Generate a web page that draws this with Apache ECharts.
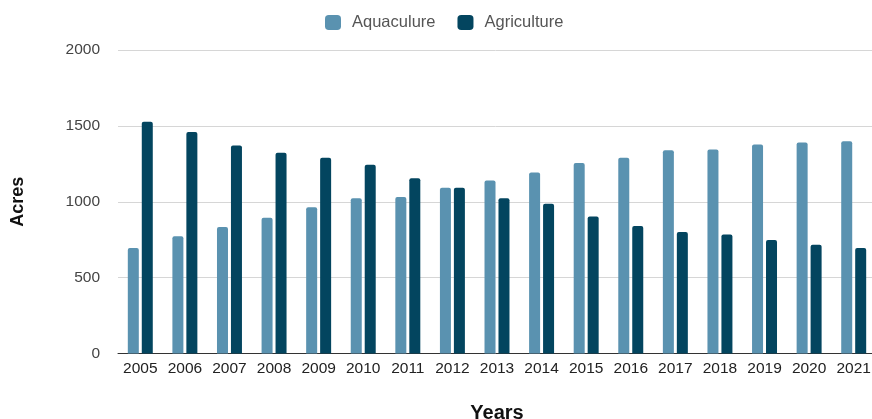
<!DOCTYPE html>
<html>
<head>
<meta charset="utf-8">
<script src="https://cdn.jsdelivr.net/npm/echarts@6/dist/echarts.min.js"></script>
<style>
html,body{margin:0;padding:0;background:#fff;}
#chart{width:872px;height:419px;}
</style>
</head>
<body>
<div id="chart"></div>
<script>
const years = ['2005','2006','2007','2008','2009','2010','2011','2012','2013','2014','2015','2016','2017','2018','2019','2020','2021'];
const aquaculture = [695, 772, 834, 894, 964, 1023, 1032, 1092, 1140, 1193, 1255, 1290, 1339, 1345, 1378, 1391, 1398];
const agriculture = [1528, 1460, 1370, 1323, 1290, 1244, 1155, 1092, 1023, 986, 902, 841, 801, 785, 748, 717, 695];
const yTicks = [0, 500, 1000, 1500, 2000];

const chart = echarts.init(document.getElementById('chart'), null, {renderer: 'canvas'});
chart.setOption({
  animation: false,
  textStyle: {fontFamily: 'Liberation Sans, Arial, sans-serif'},
  legend: {
    top: 14,
    left: 325,
    padding: 0,
    itemWidth: 16,
    itemHeight: 15,
    itemGap: 22,
    icon: 'roundRect',
    textStyle: {fontSize: 16.5, color: '#555', fontFamily: 'Liberation Sans, Arial, sans-serif', padding: [0, 0, 0, 6]},
    data: ['Aquaculure', 'Agriculture']
  },
  grid: {left: 118, right: -4, top: 50, bottom: 65.5, containLabel: false, outerBoundsMode: 'none'},
  xAxis: {
    type: 'category',
    data: years,
    name: 'Years',
    nameLocation: 'middle',
    nameGap: 50,
    nameTextStyle: {fontSize: 20, fontWeight: 'bold', color: '#111'},
    axisLine: {lineStyle: {color: '#333', width: 1}},
    axisTick: {show: false},
    axisLabel: {fontSize: 15.5, color: '#222', margin: 7, interval: 0, hideOverlap: false}
  },
  yAxis: {
    type: 'value',
    min: yTicks[0],
    max: yTicks[yTicks.length - 1],
    interval: 500,
    name: 'Acres',
    nameLocation: 'middle',
    nameGap: 91,
    nameTextStyle: {fontSize: 18, fontWeight: 'bold', color: '#111'},
    axisLine: {show: false},
    axisTick: {show: false},
    axisLabel: {fontSize: 15.5, color: '#444', margin: 18, formatter: function (v) { return String(v); }},
    splitLine: {lineStyle: {color: '#d6d6d6', width: 1}}
  },
  series: [
    {
      name: 'Aquaculure',
      type: 'bar',
      data: aquaculture,
      barWidth: 11,
      barGap: '27%',
      itemStyle: {color: '#5a92b0', borderRadius: [2, 2, 0, 0]}
    },
    {
      name: 'Agriculture',
      type: 'bar',
      data: agriculture,
      barWidth: 11,
      barGap: '27%',
      itemStyle: {color: '#03455f', borderRadius: [2, 2, 0, 0]}
    }
  ]
});
</script>
</body>
</html>
